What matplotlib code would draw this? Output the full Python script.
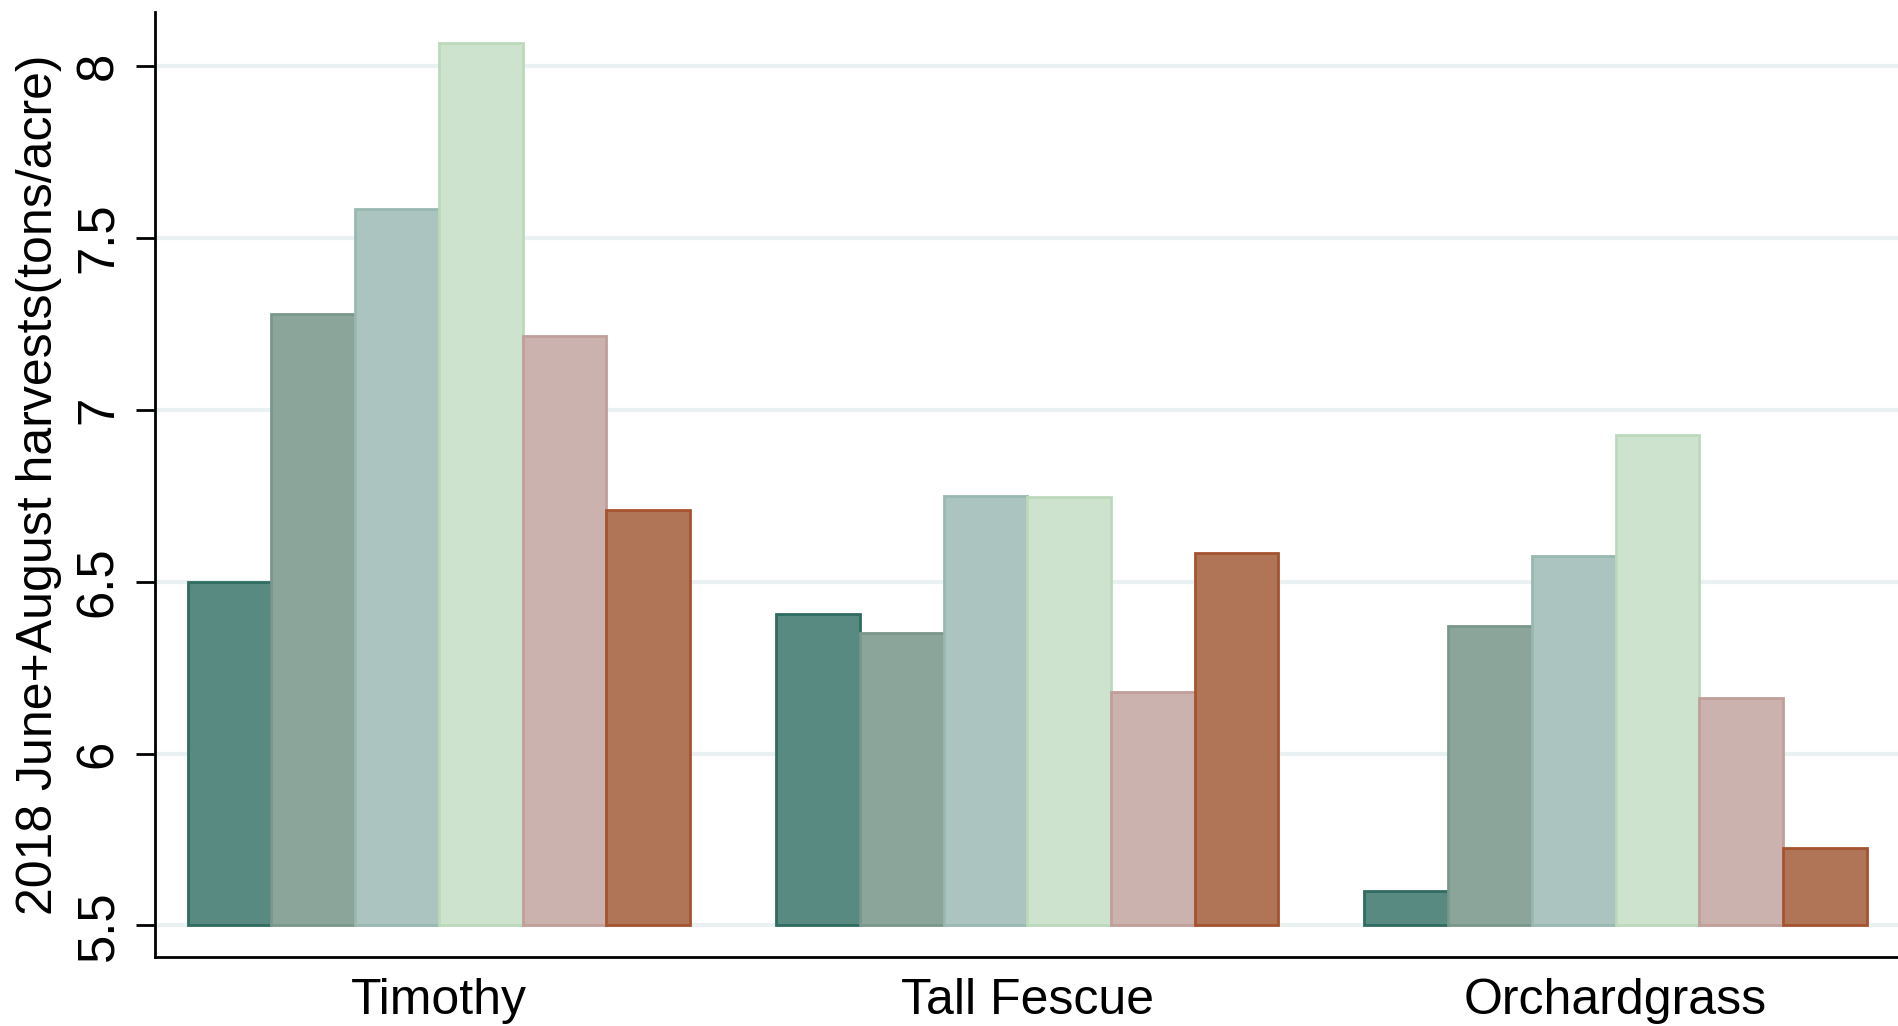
import numpy as np
import matplotlib.pyplot as plt

plt.rcParams['font.family'] = ['Liberation Sans', 'DejaVu Sans']

grasses = ['Timothy', 'Tall Fescue', 'Orchardgrass']
# six treatments per grass
s1 = [6.50, 6.405, 5.60]
s2 = [7.28, 6.35, 6.37]
s3 = [7.585, 6.75, 6.575]
s4 = [8.067, 6.748, 6.926]
s5 = [7.215, 6.18, 6.162]
s6 = [6.708, 6.585, 5.725]
series = [s1, s2, s3, s4, s5, s6]

fills = ['#588a82', '#8ca59b', '#abc4bf', '#cde3cd', '#cbb2ae', '#b07556']
edges = ['#2f6b60', '#7a978c', '#98b8b0', '#bcd9bc', '#c09f9a', '#a5532f']

fig = plt.figure(figsize=(18.98, 10.26), dpi=100)
ax = fig.add_axes([0.0817, 0.0673, 0.9183, 0.921])

x = np.arange(len(grasses))
w = 0.1423
for i, vals in enumerate(series):
    pos = x + (i - 2.5) * w
    ax.bar(pos, np.array(vals) - 5.5, bottom=5.5, width=w, color=fills[i],
           edgecolor=edges[i], linewidth=2, zorder=3)

ax.set_ylim(5.408, 8.158)
ax.set_xlim(-0.4825, 2.48)
ax.set_yticks([5.5, 6, 6.5, 7, 7.5, 8])
ax.set_yticklabels(['5.5', '6', '6.5', '7', '7.5', '8'], rotation=90, va='center')
ax.set_xticks(x)
ax.set_xticklabels(grasses)
ax.tick_params(axis='y', labelsize=36.5, length=14, width=2, pad=9)
ax.tick_params(axis='x', labelsize=36, length=0, pad=15)
ax.grid(axis='y', color='#e9f1f2', linewidth=3, zorder=0)
ax.set_axisbelow(True)
ax.spines['top'].set_visible(False)
ax.spines['right'].set_visible(False)
ax.spines['left'].set_linewidth(2)
ax.spines['bottom'].set_linewidth(2)
ax.set_ylabel('2018 June+August harvests(tons/acre)', fontsize=36, labelpad=9)

fig.savefig('out.png', dpi=100)
